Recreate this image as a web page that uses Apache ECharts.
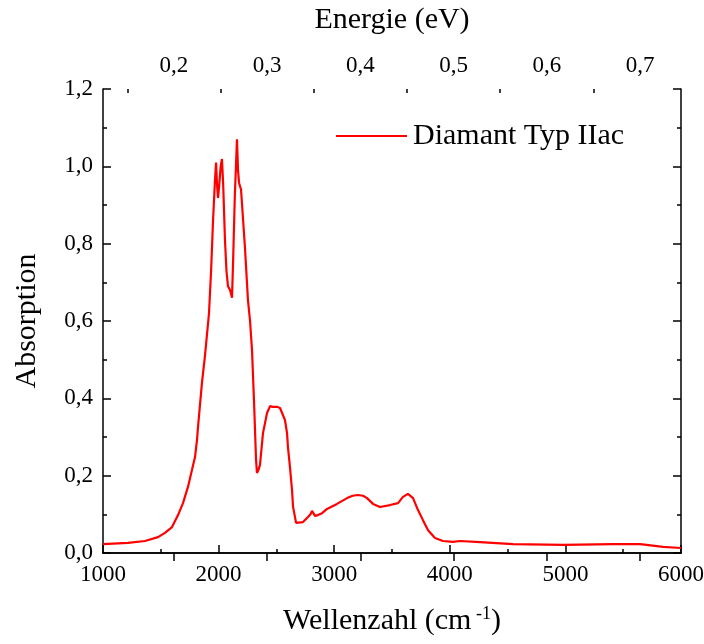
<!DOCTYPE html>
<html><head><meta charset="utf-8">
<script src="https://cdn.jsdelivr.net/npm/echarts@6/dist/echarts.min.js"></script>
<style>html,body{margin:0;padding:0;background:#fff}#c{width:704px;height:644px}</style>
</head><body><div id="c"></div>
<script>
const wavenumber = [1000,1216,1363,1476,1536,1597,1649,1692,1735,1770,1796,1813,1822,1856,1882,1917,1935,1952,1968,1978,1987,1995,2005,2018,2029,2040,2055,2068,2081,2090,2099,2108,2116,2125,2140,2159,2168,2177,2194,2228,2254,2272,2289,2306,2324,2332,2345,2358,2384,2419,2445,2470,2505,2531,2549,2574,2592,2600,2618,2635,2644,2670,2730,2773,2795,2808,2834,2860,2895,2938,3024,3111,3160,3206,3250,3284,3336,3396,3483,3552,3595,3638,3682,3725,3768,3812,3872,3941,4028,4088,4261,4547,4979,5412,5646,5845,6000];
const absorption = [0.023,0.026,0.031,0.041,0.052,0.067,0.098,0.129,0.171,0.215,0.248,0.292,0.326,0.44,0.51,0.62,0.73,0.86,0.96,1.01,0.95,0.918,0.95,1.0,1.019,0.95,0.81,0.73,0.69,0.685,0.68,0.675,0.66,0.75,0.92,1.07,0.99,0.957,0.94,0.79,0.654,0.6,0.525,0.396,0.24,0.207,0.215,0.228,0.31,0.362,0.38,0.378,0.378,0.375,0.362,0.344,0.31,0.274,0.22,0.163,0.12,0.078,0.08,0.093,0.1,0.109,0.096,0.098,0.103,0.114,0.127,0.142,0.148,0.15,0.148,0.142,0.127,0.119,0.124,0.129,0.145,0.153,0.142,0.111,0.085,0.059,0.039,0.031,0.029,0.031,0.028,0.023,0.021,0.023,0.023,0.016,0.013];
const energyMajorTicks = [0.2,0.3,0.4,0.5,0.6,0.7];
const energyMinorTicks = [0.15,0.25,0.35,0.45,0.55,0.65];
const seriesName = 'Diamant Typ IIac';
const CM_PER_EV = 8065.54;
const xMin = 1000, xMax = 6000;

const FONT = '"Liberation Serif", "DejaVu Serif", serif';
const comma = v => v.toFixed(1).replace('.', ',');
const axisLineStyle = {lineStyle:{color:'#000', width:1.5}};
const chart = echarts.init(document.getElementById('c'), null, {renderer:'canvas'});
const data = wavenumber.map((w,i)=>[w, absorption[i]]);
chart.setOption({
  animation:false,
  backgroundColor:'#fff',
  grid:{left:103,right:23,top:89,bottom:91,containLabel:false,outerBoundsMode:'none'},
  legend:{
    data:[{name:seriesName, icon:'rect'}], left:331, top:116, itemWidth:71, itemHeight:2, itemGap:0,
    itemStyle:{color:'#ff0000'},
    textStyle:{fontFamily:FONT, fontSize:30, color:'#000', padding:[0,0,0,1]}
  },
  xAxis:[
    {type:'value', position:'bottom', min:xMin, max:xMax, interval:1000,
     name:'{a|Wellenzahl (cm}{s| -1}{a|)}', nameLocation:'middle', nameGap:52,
     nameTextStyle:{rich:{a:{fontFamily:FONT,fontSize:30,color:'#000'}, s:{fontFamily:FONT,fontSize:18,color:'#000',verticalAlign:'top',padding:[0,0,14,0]}}},
     axisLine:axisLineStyle, axisTick:{inside:true,length:8,lineStyle:{color:'#000',width:1.5}},
     minorTick:{show:true,splitNumber:2,length:4,lineStyle:{color:'#000',width:1.5}},
     splitLine:{show:false},
     axisLabel:{fontFamily:FONT,fontSize:23,color:'#000',margin:10,formatter:v=>String(v)}},
    {type:'value', position:'top', min:xMin/CM_PER_EV, max:xMax/CM_PER_EV,
     name:'Energie (eV)', nameLocation:'middle', nameGap:54,
     nameTextStyle:{fontFamily:FONT,fontSize:30,color:'#000'},
     axisLine:axisLineStyle,
     axisTick:{inside:true,length:8,lineStyle:{color:'#000',width:1.5},customValues:energyMajorTicks},
     splitLine:{show:false},
     axisLabel:{fontFamily:FONT,fontSize:23,color:'#000',margin:12,customValues:energyMajorTicks,formatter:comma}},
    {type:'value', position:'top', min:xMin/CM_PER_EV, max:xMax/CM_PER_EV,
     axisLine:{show:false},
     axisTick:{inside:true,length:4,lineStyle:{color:'#000',width:1.5},customValues:energyMinorTicks},
     splitLine:{show:false},
     axisLabel:{show:false}}
  ],
  yAxis:[
    {type:'value', position:'left', min:0, max:1.2, interval:0.2,
     name:'Absorption', nameLocation:'middle', nameGap:61,
     nameTextStyle:{fontFamily:FONT,fontSize:30,color:'#000'},
     axisLine:{show:true,lineStyle:{color:'#000',width:1.5}},
     axisTick:{show:true,inside:true,length:8,lineStyle:{color:'#000',width:1.5}},
     minorTick:{show:true,splitNumber:2,length:4,lineStyle:{color:'#000',width:1.5}},
     splitLine:{show:false},
     axisLabel:{fontFamily:FONT,fontSize:23,color:'#000',margin:10,formatter:comma}},
    {type:'value', position:'right', min:0, max:1.2, interval:0.2,
     axisLine:{show:true,lineStyle:{color:'#000',width:1.5}},
     axisTick:{show:true,inside:true,length:8,lineStyle:{color:'#000',width:1.5}},
     minorTick:{show:true,splitNumber:2,length:4,lineStyle:{color:'#000',width:1.5}},
     splitLine:{show:false},
     axisLabel:{show:false}}
  ],
  series:[{
    name:seriesName, type:'line', xAxisIndex:0, yAxisIndex:0, data:data,
    symbol:'none', smooth:false,
    lineStyle:{color:'#ff0000', width:2.2}, itemStyle:{color:'#ff0000'}
  }]
});
</script></body></html>
